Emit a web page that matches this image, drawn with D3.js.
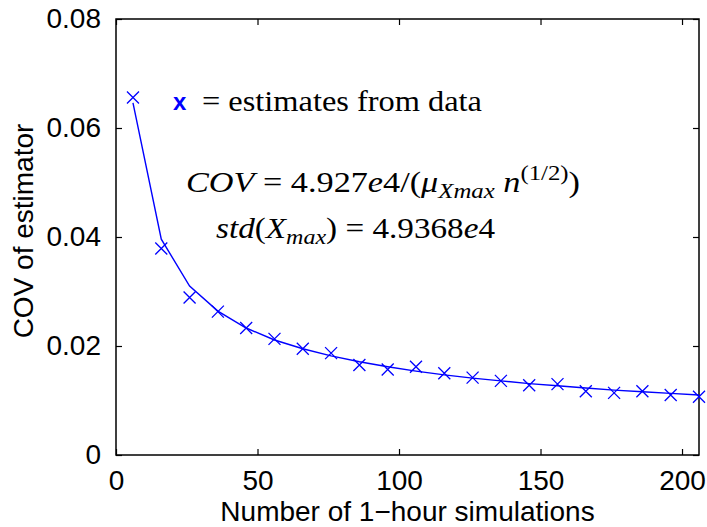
<!DOCTYPE html>
<html>
<head>
<meta charset="utf-8">
<script src="https://cdn.jsdelivr.net/npm/d3@7"></script>
<style>
  body { margin: 0; background: #fff; }
</style>
</head>
<body>
<div id="chart"></div>
<script>
// data
const nSims = [6, 16, 26, 36, 46, 56, 66, 76, 86, 96, 106, 116, 126, 136, 146, 156, 166, 176, 186, 196, 206];
const covData = [0.0656, 0.0379, 0.0289, 0.0263, 0.0233, 0.0213, 0.0195, 0.0187, 0.0165, 0.0157, 0.0162,
                 0.0150, 0.0142, 0.0136, 0.0128, 0.0130, 0.0117, 0.0114, 0.0117, 0.0110, 0.0107];
const covFit = [0.0646, 0.0396, 0.0310, 0.0264, 0.0233, 0.0211, 0.0195, 0.0182, 0.0171, 0.0162, 0.0154,
                0.0147, 0.0141, 0.0136, 0.0131, 0.0127, 0.0123, 0.0119, 0.0116, 0.0113, 0.0110];
const xTicks = [0, 50, 100, 150, 200];
const yTicks = [0, 0.02, 0.04, 0.06, 0.08];
const xDomain = [0, 206];
const yDomain = [0, 0.08];

let width = 707;
let height = 527;
let margin = {top: 19, right: 8, bottom: 72, left: 116};
let blue = "#0000ff";
let sans = "'Liberation Sans', Arial, sans-serif";
let serif = "Liberation Serif, DejaVu Serif, serif";

const svg = d3.select("#chart")
  .append("svg")
  .attr("width", width)
  .attr("height", height)
  .style("display", "block")
  .style("background", "#fff");

const x = d3.scaleLinear()
  .domain(xDomain)
  .range([margin.left, width - margin.right]);

const y = d3.scaleLinear()
  .domain(yDomain)
  .range([height - margin.bottom, margin.top]);

// axes, MATLAB style: ticks inside, box all round
const tick = 6;
const fmtY = d => d === 0 ? "0" : d3.format(".2f")(d);

svg.append("g")
  .attr("transform", `translate(0,${y(0)})`)
  .call(d3.axisBottom(x).tickValues(xTicks).tickSizeInner(-tick).tickSizeOuter(0).tickPadding(15))
  .call(g => g.select(".domain").remove())
  .call(g => g.selectAll("text").attr("font-family", sans).attr("font-size", 28).attr("fill", "#000"));

svg.append("g")
  .attr("transform", `translate(0,${y(0.08)})`)
  .call(d3.axisTop(x).tickValues(xTicks).tickSizeInner(-tick).tickSizeOuter(0).tickFormat(""))
  .call(g => g.select(".domain").remove());

svg.append("g")
  .attr("transform", `translate(${x(0)},0)`)
  .call(d3.axisLeft(y).tickValues(yTicks).tickSizeInner(-tick).tickSizeOuter(0).tickPadding(15).tickFormat(fmtY))
  .call(g => g.select(".domain").remove())
  .call(g => g.selectAll("text").attr("font-family", sans).attr("font-size", 28).attr("fill", "#000"));

svg.append("g")
  .attr("transform", `translate(${x(206)},0)`)
  .call(d3.axisRight(y).tickValues(yTicks).tickSizeInner(-tick).tickSizeOuter(0).tickFormat(""))
  .call(g => g.select(".domain").remove());

svg.selectAll(".tick line").attr("stroke", "#000").attr("stroke-width", 1.2);

svg.append("rect")
  .attr("x", x(0))
  .attr("y", y(0.08))
  .attr("width", x(206) - x(0))
  .attr("height", y(0) - y(0.08))
  .attr("fill", "none")
  .attr("stroke", "#000")
  .attr("stroke-width", 1.5);

// fitted curve
const line = d3.line()
  .x((d, i) => x(nSims[i]))
  .y(d => y(d));

svg.append("path")
  .datum(covFit)
  .attr("d", line)
  .attr("fill", "none")
  .attr("stroke", blue)
  .attr("stroke-width", 1.4);

// x markers for the estimates
const m = 6;
svg.append("g")
  .selectAll("path")
  .data(covData)
  .join("path")
    .attr("transform", (d, i) => `translate(${x(nSims[i])},${y(d)})`)
    .attr("d", `M${-m},${-m}L${m},${m}M${-m},${m}L${m},${-m}`)
    .attr("fill", "none")
    .attr("stroke", blue)
    .attr("stroke-width", 1.3);

// axis labels
svg.append("text")
  .attr("x", (x(0) + x(206)) / 2)
  .attr("y", 521)
  .attr("text-anchor", "middle")
  .attr("font-family", sans)
  .attr("font-size", 28)
  .text("Number of 1\u2212hour simulations");

svg.append("text")
  .attr("transform", `translate(33,${(y(0) + y(0.08)) / 2 - 6}) rotate(-90)`)
  .attr("text-anchor", "middle")
  .attr("font-family", sans)
  .attr("font-size", 28)
  .text("COV of estimator");

// annotations
svg.append("text")
  .attr("x", 173)
  .attr("y", 110)
  .attr("font-family", sans)
  .attr("font-weight", "bold")
  .attr("font-size", 24)
  .attr("fill", blue)
  .text("x");

svg.append("text")
  .attr("x", 202)
  .attr("y", 111)
  .style("font-family", serif)
  .attr("font-size", 29)
  .attr("textLength", 280)
  .attr("lengthAdjust", "spacingAndGlyphs")
  .text("= estimates from data");

const cov = svg.append("text")
  .attr("x", 186)
  .attr("y", 192)
  .style("font-family", serif)
  .attr("font-size", 29)
  .attr("textLength", 394)
  .attr("lengthAdjust", "spacingAndGlyphs");
cov.append("tspan").attr("font-style", "italic").text("COV");
cov.append("tspan").text(" = 4.927");
cov.append("tspan").attr("font-style", "italic").text("e");
cov.append("tspan").text("4/(");
cov.append("tspan").attr("font-style", "italic").text("\u03bc");
cov.append("tspan").attr("font-style", "italic").attr("font-size", 21).attr("dy", 6).text("Xmax");
cov.append("tspan").attr("font-style", "italic").attr("dy", -6).text(" n");
cov.append("tspan").attr("font-size", 21).attr("dy", -12).text("(1/2)");
cov.append("tspan").attr("dy", 12).text(")");

const sd = svg.append("text")
  .attr("x", 216)
  .attr("y", 238)
  .style("font-family", serif)
  .attr("font-size", 29)
  .attr("textLength", 279)
  .attr("lengthAdjust", "spacingAndGlyphs");
sd.append("tspan").attr("font-style", "italic").text("std");
sd.append("tspan").text("(");
sd.append("tspan").attr("font-style", "italic").text("X");
sd.append("tspan").attr("font-style", "italic").attr("font-size", 21).attr("dy", 6).text("max");
sd.append("tspan").attr("dy", -6).text(") = 4.9368");
sd.append("tspan").attr("font-style", "italic").text("e");
sd.append("tspan").text("4");
</script>
</body>
</html>
